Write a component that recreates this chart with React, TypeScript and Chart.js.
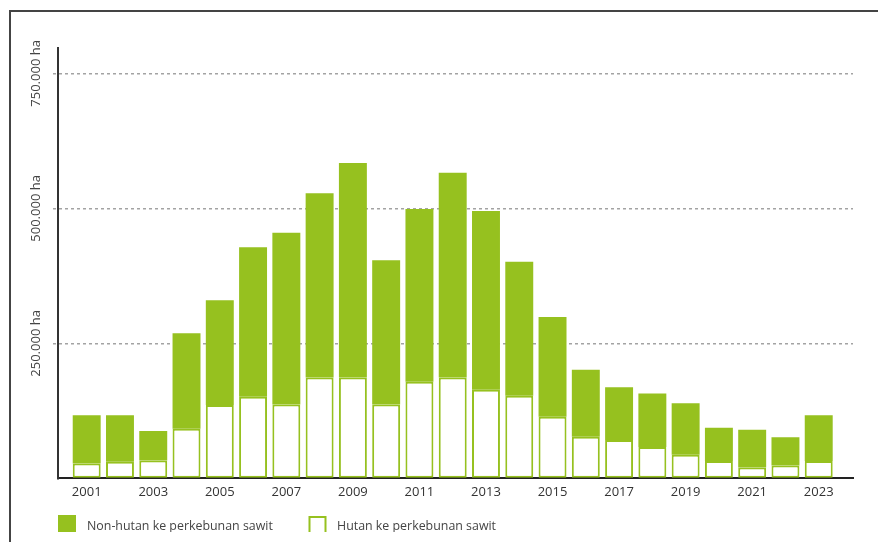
import React, { useEffect, useRef } from "react";
import { Chart, registerables } from "chart.js";

Chart.register(...registerables);

// ---- data ----
const years = [
  2001, 2002, 2003, 2004, 2005, 2006, 2007, 2008, 2009, 2010, 2011, 2012,
  2013, 2014, 2015, 2016, 2017, 2018, 2019, 2020, 2021, 2022, 2023,
];
const tickYears = [2001, 2003, 2005, 2007, 2009, 2011, 2013, 2015, 2017, 2019, 2021, 2023];
// Hutan ke perkebunan sawit (forest -> oil palm), ha
const hutan = [
  27500, 30700, 33000, 92000, 136000, 151000, 137000, 187000, 187000, 137000,
  179000, 187000, 164000, 153000, 114000, 77000, 71000, 58000, 44000, 32000,
  20000, 24000, 32000,
];
// Non-hutan ke perkebunan sawit (non-forest -> oil palm), ha
const nonHutan = [
  89500, 86300, 55000, 177000, 194000, 277000, 318000, 341000, 397000, 267000,
  320000, 379000, 331000, 248000, 185000, 124000, 98000, 99000, 95000, 62000,
  70000, 52000, 85000,
];
const yTickValues = [0, 250000, 500000, 750000];
const yTickLabels = ["", "250.000 ha", "500.000 ha", "750.000 ha"];
const legendLabels = ["Non-hutan ke perkebunan sawit", "Hutan ke perkebunan sawit"];

const GREEN = "#96c11f";
const FONT = "'Open Sans', 'Noto Sans', sans-serif";
const GRID = "#a3a3a3";

const decorPlugin = {
  id: "decor",
  beforeDraw(chart: any) {
    const ctx = chart.ctx;
    ctx.save();
    ctx.fillStyle = "#fff";
    ctx.fillRect(0, 0, chart.width, chart.height);
    ctx.restore();
  },
  afterDraw(chart: any) {
    const ctx = chart.ctx;
    const yScale = chart.scales.y;
    ctx.save();
    // rotated y tick labels
    ctx.font = `13px ${FONT}`;
    ctx.fillStyle = "#444";
    ctx.textAlign = "center";
    ctx.textBaseline = "middle";
    yTickValues.forEach((v, i) => {
      if (!yTickLabels[i]) return;
      const py = yScale.getPixelForValue(v);
      ctx.save();
      ctx.translate(36, py);
      ctx.rotate(-Math.PI / 2);
      ctx.fillText(yTickLabels[i], 0, 0);
      ctx.restore();
    });

    // legend (clipped like the reference)
    ctx.save();
    ctx.beginPath();
    ctx.rect(0, 0, chart.width, 532);
    ctx.clip();
    ctx.fillStyle = GREEN;
    ctx.fillRect(58, 515, 18, 18);
    ctx.strokeStyle = GREEN;
    ctx.lineWidth = 2;
    ctx.strokeRect(309.5, 517, 16, 16);
    ctx.fillStyle = "#444";
    ctx.textAlign = "left";
    ctx.textBaseline = "alphabetic";
    ctx.font = `12.4px ${FONT}`;
    ctx.fillText(legendLabels[0], 87, 530);
    ctx.fillText(legendLabels[1], 337, 530);
    ctx.restore();

    // outer frame
    ctx.strokeStyle = "#444";
    ctx.lineWidth = 2;
    ctx.beginPath();
    ctx.moveTo(10, chart.height + 5);
    ctx.lineTo(10, 11);
    ctx.lineTo(chart.width + 5, 11);
    ctx.stroke();
    ctx.restore();
  },
};

export default function App() {
  const ref = useRef<HTMLCanvasElement | null>(null);

  useEffect(() => {
    if (!ref.current) return;
    const chart = new Chart(ref.current, {
      type: "bar",
      data: {
        datasets: [
          {
            label: legendLabels[1],
            data: years.map((yr, i) => ({ x: yr, y: hutan[i] })),
            backgroundColor: "#ffffff",
            borderColor: GREEN,
            borderWidth: 2,
            borderSkipped: false,
          },
          {
            label: legendLabels[0],
            data: years.map((yr, i) => ({ x: yr, y: nonHutan[i] })),
            backgroundColor: GREEN,
            borderWidth: 0,
          },
        ],
      } as any,
      options: {
        animation: false,
        responsive: false,
        layout: { padding: { left: 53, right: 25, top: 48, bottom: 36 } },
        plugins: { legend: { display: false }, tooltip: { enabled: false } },
        datasets: { bar: { categoryPercentage: 1, barPercentage: 0.84 } },
        scales: {
          x: {
            type: "linear",
            stacked: true,
            offset: false,
            min: 2000.1375,
            max: 2024.03,
            afterBuildTicks: (s: any) => {
              s.ticks = tickYears.map((v) => ({ value: v }));
            },
            grid: { display: false, drawTicks: false, offset: false },
            border: { display: true, color: "#222", width: 2 },
            ticks: {
              font: { family: FONT, size: 13 },
              color: "#333",
              padding: 6,
              maxRotation: 0,
              autoSkip: false,
              callback: (v: any) => String(v),
            },
          },
          y: {
            stacked: true,
            min: 0,
            max: 797000,
            afterBuildTicks: (s: any) => {
              s.ticks = yTickValues.map((v) => ({ value: v }));
            },
            ticks: { display: false },
            grid: {
              color: (c: any) => (c.tick && c.tick.value === 0 ? "rgba(0,0,0,0)" : GRID),
              tickColor: (c: any) => (c.tick && c.tick.value === 0 ? "rgba(0,0,0,0)" : GRID),
              lineWidth: 1.5,
              tickLength: 5,
              tickBorderDash: [3, 3],
            },
            border: { display: true, color: "#333", width: 2, dash: [3, 3] },
          },
        },
      } as any,
      plugins: [decorPlugin],
    });
    return () => chart.destroy();
  }, []);

  return (
    <div style={{ position: "absolute", left: 0, top: 0, width: 878, height: 542 }}>
      <canvas ref={ref} width={878} height={542} style={{ width: 878, height: 542, display: "block" }} />
    </div>
  );
}
